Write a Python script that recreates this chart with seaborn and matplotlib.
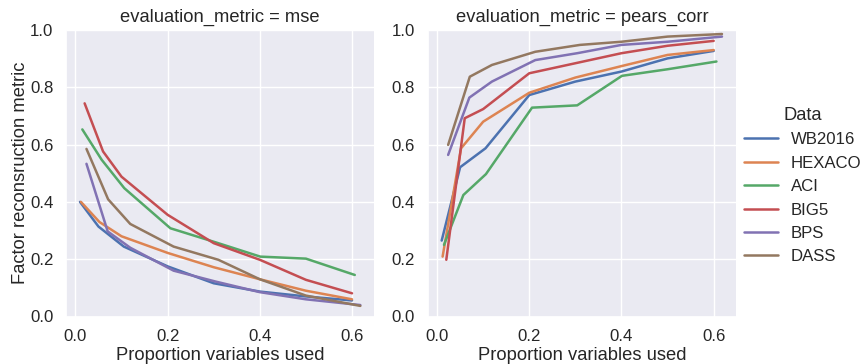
import numpy as np
import pandas as pd
import seaborn as sns
import matplotlib
matplotlib.use("Agg")
import matplotlib.pyplot as plt

datasets = ["WB2016", "HEXACO", "ACI", "BIG5", "BPS", "DASS"]
metrics = ["mse", "pears_corr"]

prop_wb2016 = [0.01, 0.05, 0.105, 0.2, 0.3, 0.4, 0.5, 0.6]
mse_wb2016 = [0.40, 0.314, 0.244, 0.175, 0.116, 0.087, 0.070, 0.056]
corr_wb2016 = [0.265, 0.521, 0.587, 0.773, 0.820, 0.855, 0.901, 0.927]

prop_hexaco = [0.012, 0.052, 0.10, 0.2, 0.3, 0.4, 0.5, 0.6]
mse_hexaco = [0.40, 0.330, 0.280, 0.222, 0.172, 0.130, 0.090, 0.060]
corr_hexaco = [0.209, 0.587, 0.680, 0.781, 0.834, 0.874, 0.913, 0.930]

prop_aci = [0.015, 0.057, 0.106, 0.206, 0.304, 0.401, 0.5, 0.606]
mse_aci = [0.653, 0.547, 0.448, 0.308, 0.259, 0.209, 0.202, 0.145]
corr_aci = [0.250, 0.424, 0.497, 0.729, 0.737, 0.840, 0.863, 0.890]

prop_big5 = [0.02, 0.06, 0.10, 0.2, 0.3, 0.4, 0.5, 0.6]
mse_big5 = [0.744, 0.576, 0.488, 0.355, 0.256, 0.198, 0.128, 0.081]
corr_big5 = [0.198, 0.692, 0.724, 0.849, 0.884, 0.919, 0.945, 0.962]

prop_bps = [0.024, 0.07, 0.119, 0.213, 0.304, 0.4, 0.5, 0.618]
mse_bps = [0.533, 0.297, 0.240, 0.160, 0.122, 0.085, 0.060, 0.040]
corr_bps = [0.564, 0.764, 0.820, 0.895, 0.919, 0.948, 0.959, 0.977]

prop_dass = [0.024, 0.071, 0.119, 0.213, 0.31, 0.4, 0.5, 0.618]
mse_dass = [0.585, 0.409, 0.323, 0.244, 0.198, 0.130, 0.073, 0.037]
corr_dass = [0.599, 0.837, 0.878, 0.924, 0.948, 0.959, 0.977, 0.986]

props = [prop_wb2016, prop_hexaco, prop_aci, prop_big5, prop_bps, prop_dass]
mses = [mse_wb2016, mse_hexaco, mse_aci, mse_big5, mse_bps, mse_dass]
corrs = [corr_wb2016, corr_hexaco, corr_aci, corr_big5, corr_bps, corr_dass]

rows = []
for name, p, m, c in zip(datasets, props, mses, corrs):
    for xi, yi in zip(p, m):
        rows.append({"Data": name, "prop": xi, "value": yi, "evaluation_metric": "mse"})
    for xi, yi in zip(p, c):
        rows.append({"Data": name, "prop": xi, "value": yi, "evaluation_metric": "pears_corr"})
df = pd.DataFrame(rows)

sns.set_theme(style="darkgrid", font_scale=1.1)
plt.rcParams["font.family"] = ["Liberation Sans", "DejaVu Sans"]
plt.rcParams["lines.linewidth"] = 1.8

g = sns.relplot(data=df, x="prop", y="value", hue="Data", col="evaluation_metric",
                col_order=metrics, hue_order=datasets, kind="line",
                height=3.64, aspect=0.85, facet_kws={"sharey": False})
g.set_axis_labels("Proportion variables used", "Factor reconsruction metric")
for ax in g.axes.flat:
    ax.set_ylim(0, 1.0)
    ax.set_yticks([0.0, 0.2, 0.4, 0.6, 0.8, 1.0])
    ax.set_xticks([0.0, 0.2, 0.4, 0.6])
    ax.tick_params(labelleft=True, pad=3)
    ax.xaxis.labelpad = 2
    ax.yaxis.labelpad = 1

fig = g.figure
fig.set_size_inches(8.63, 3.64)
fig.subplots_adjust(left=66/863, right=736/863, top=1-30/364, bottom=1-316.5/364, wspace=0.173)
sns.move_legend(g, "center right", bbox_to_anchor=(1.016, 0.49))
fig.savefig("out.png", dpi=100)
